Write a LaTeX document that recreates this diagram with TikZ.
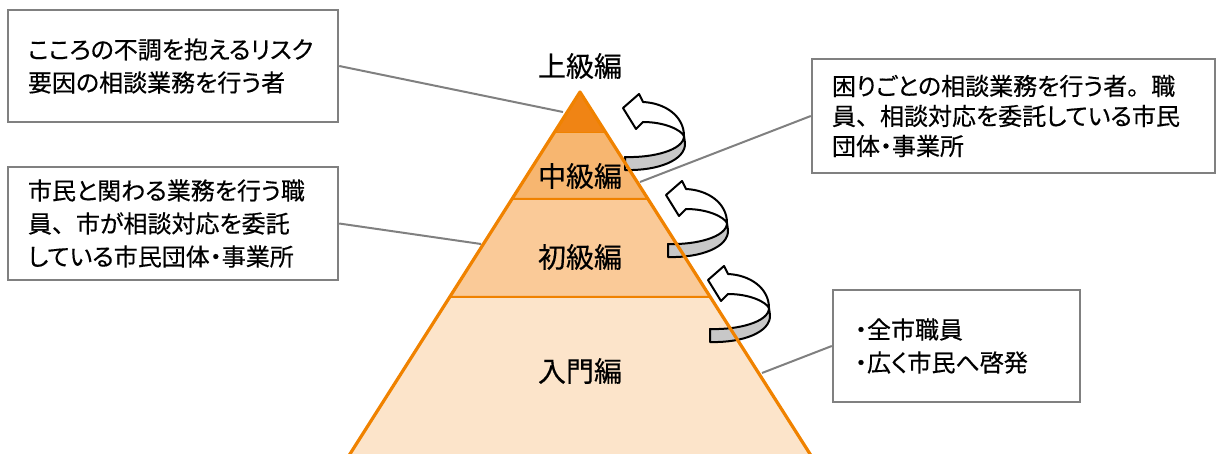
\documentclass[tikz,border=0pt]{standalone}
\usepackage{fontspec}
\newfontfamily\jpfont[RawFeature=+palt,FakeBold=0.4]{Noto Sans CJK JP}
\newfontfamily\jpwide[FakeBold=0.4]{Noto Sans CJK JP}
\newcommand{\wpunct}[1]{{\jpwide #1}}
\definecolor{lineorange}{RGB}{240,130,0}
\definecolor{topband}{RGB}{240,132,20}
\definecolor{midband}{RGB}{247,182,112}
\definecolor{lowband}{RGB}{250,202,152}
\definecolor{baseband}{RGB}{252,228,202}
\definecolor{boxgray}{RGB}{128,128,128}
\definecolor{ribbongray}{RGB}{200,200,200}
\begin{document}
\begin{tikzpicture}[x=0.5pt,y=-0.5pt,
  infobox/.style={draw=boxgray,line width=1.2pt,fill=white,align=left,inner xsep=10pt,inner ysep=0pt,font=\jpfont\fontsize{12}{16.5}\selectfont},
  level/.style={font=\jpfont\fontsize{14}{16}\selectfont,inner sep=0pt},
  link/.style={draw=boxgray,line width=1pt},
  band/.style={draw=lineorange,line width=1pt}]
\useasboundingbox (0,0) rectangle (1221,454);

% pyramid corners
\coordinate (apex) at (580,92);
\coordinate (t1l) at (554.6,132);
\coordinate (t1r) at (605.4,132);
\coordinate (t2l) at (512,199);
\coordinate (t2r) at (648,199);
\coordinate (t3l) at (449.7,297);
\coordinate (t3r) at (710.3,297);
\coordinate (t4l) at (339.8,470);
\coordinate (t4r) at (820.2,470);

\path[band,fill=baseband] (t3l) -- (t3r) -- (t4r) -- (t4l) -- cycle;
\path[band,fill=lowband] (t2l) -- (t2r) -- (t3r) -- (t3l) -- cycle;
\path[band,fill=midband] (t1l) -- (t1r) -- (t2r) -- (t2l) -- cycle;
\path[fill=topband] (apex) -- (t1r) -- (t1l) -- cycle;

% turning arrows
\foreach \tx/\ty in {623/108,666/195,708/280} {
  \begin{scope}[shift={(\tx,\ty)}]
    \path[draw,line width=1pt,fill=ribbongray,line join=round] (61,28) .. controls (61,42) and (30,50) .. (2,49) -- (2,62) .. controls (35,63) and (63,52) .. (62,35) -- cycle;
    \path[draw,line width=1pt,fill=white,line join=round] (0,0) -- (16,-14) -- (20,-6) .. controls (42,-5) and (61,8) .. (61,28) .. controls (58,22) and (42,14) .. (20,14) -- (13,21) -- cycle;
  \end{scope}
}

\node[level] (upper) at (580,66) {上級編};
\node[level] (middle) at (580,176) {中級編};
\node[level] (lower) at (580,257) {初級編};
\node[level] (entry) at (580,371) {入門編};

\node[infobox,text width=145pt,minimum height=56pt] (b1) at (173,66) {こころの不調を抱えるリスク\\要因の相談業務を行う者};
\node[infobox,text width=145pt,minimum height=56.5pt] (b2) at (173,223.5) {市民と関わる業務を行う職\\員\wpunct{、}市が相談対応を委託\\している市民団体・事業所};
\node[infobox,text width=181.5pt,minimum height=57pt,font=\jpfont\fontsize{12}{15}\selectfont] (b3) at (1013.5,116) {困りごとの相談業務を行う者\wpunct{。}職\\員\wpunct{、}相談対応を委託している市民\\団体・事業所};
\node[infobox,text width=101.5pt,inner xsep=11pt,minimum height=56pt] (b4) at (956.5,346) {・全市職員\\・広く市民へ啓発};

\coordinate (e1) at (563,112);
\coordinate (e2) at (481,244);
\coordinate (e3) at (640,182);
\coordinate (e4) at (762,373);
\path[link] (b1.east) -- (e1);
\path[link] (b2.east) -- (e2);
\path[link] (b3.west) -- (e3);
\path[link] (b4.west) -- (e4);

\path[draw=lineorange,line width=1.6pt,line join=round] (t4l) -- (apex) -- (t4r);
\end{tikzpicture}
\end{document}
